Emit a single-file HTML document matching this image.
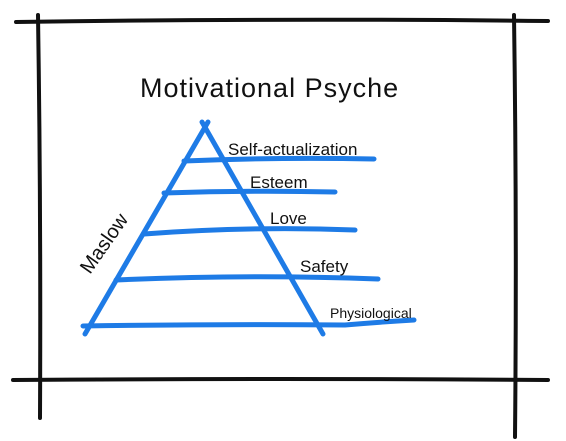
<!DOCTYPE html>
<html><head><meta charset="utf-8"><style>
html,body{margin:0;padding:0;background:#fff;width:566px;height:441px;overflow:hidden}
svg{display:block}
text{font-family:"Liberation Sans",sans-serif;fill:#111}
</style></head><body>
<svg width="566" height="441" viewBox="0 0 566 441">
<g stroke="#111" stroke-width="4" fill="none" stroke-linecap="round">
<path d="M16 22 Q280 18 548 21"/>
<path d="M38 15 Q41 210 40 418"/>
<path d="M514 15 Q517 230 515 437"/>
<path d="M13 380 Q280 378 548 380"/>
</g>
<text x="140" y="97" font-size="27" letter-spacing="1">Motivational Psyche</text>
<g stroke="#1e7be6" stroke-width="5" fill="none" stroke-linecap="round">
<path d="M208 122 L85 334"/>
<path d="M202 122 L323 334"/>
<path d="M184 161 Q280 157 374 159"/>
<path d="M164 193 Q250 190 335 192"/>
<path d="M144 234 Q250 226 355 230"/>
<path d="M116 280 Q250 274 378 279"/>
<path d="M83 326 Q220 324 345 325 Q380 322 414 320"/>
</g>
<text x="228" y="155" font-size="17">Self-actualization</text>
<text x="250" y="188" font-size="17">Esteem</text>
<text x="270" y="224" font-size="17">Love</text>
<text x="300" y="272" font-size="17">Safety</text>
<text x="330" y="318" font-size="14">Physiological</text>
<text x="0" y="0" font-size="20" transform="translate(90 275) rotate(-55)">Maslow</text>
</svg>
</body></html>
